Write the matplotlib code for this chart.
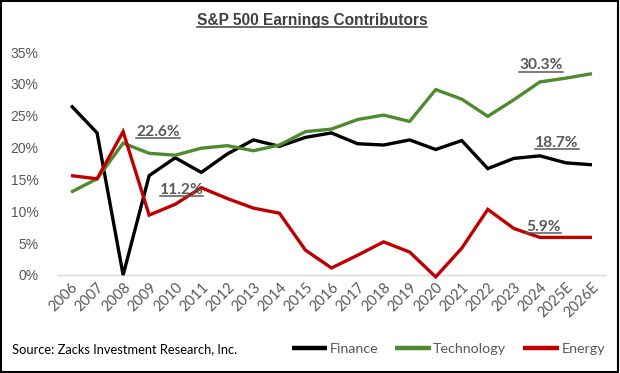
import matplotlib
matplotlib.use("Agg")
import matplotlib.pyplot as plt
from matplotlib.lines import Line2D
from matplotlib.patches import Rectangle

years = ["2006", "2007", "2008", "2009", "2010", "2011", "2012", "2013", "2014", "2015",
         "2016", "2017", "2018", "2019", "2020", "2021", "2022", "2023", "2024", "2025E", "2026E"]
finance = [26.6, 22.3, 0.0, 15.6, 18.4, 16.1, 19.0, 21.2, 20.2, 21.6,
           22.3, 20.6, 20.4, 21.2, 19.7, 21.1, 16.7, 18.3, 18.7, 17.6, 17.3]
technology = [13.0, 15.1, 20.7, 19.1, 18.8, 19.9, 20.3, 19.5, 20.4, 22.5,
              22.9, 24.4, 25.1, 24.1, 29.1, 27.6, 24.9, 27.5, 30.3, 30.9, 31.6]
energy = [15.6, 15.1, 22.5, 9.4, 11.1, 13.7, 12.0, 10.5, 9.7, 3.9,
          1.1, 3.1, 5.2, 3.6, -0.3, 4.2, 10.3, 7.3, 5.9, 5.9, 5.9]
series_names = ["Finance", "Technology", "Energy"]
series_colors = ["#000000", "#4E8A2E", "#C00000"]
annotations = [("22.6%", 3.33, 22.4), ("11.2%", 4.24, 13.3), ("30.3%", 18.05, 32.9),
               ("18.7%", 18.66, 20.7), ("5.9%", 18.13, 7.6)]
title = "S&P 500 Earnings Contributors"
source = "Source: Zacks Investment Research, Inc."

GRAY = "#595959"
fig = plt.figure(figsize=(6.2, 3.73), dpi=100)
ax = fig.add_axes([58/620, 1-275/373, (605-58)/620, (275-52)/373])

x = list(range(len(years)))
handles = []
for vals, name, col in zip([finance, technology, energy], series_names, series_colors):
    h, = ax.plot(x, vals, color=col, lw=2.4, label=name, clip_on=False,
                 solid_joinstyle="miter", solid_capstyle="butt")
    handles.append(h)

ax.set_xlim(-0.5, len(years) - 0.5)
ax.set_ylim(0, 35)
ax.set_yticks(range(0, 36, 5))
ax.set_yticklabels([f"{v}%" for v in range(0, 36, 5)], family="Liberation Sans",
                   fontsize=10, color=GRAY)
ax.set_xticks(x)
ax.set_xticklabels(years, rotation=45, ha="right", rotation_mode="anchor",
                   family="Lato", fontsize=10.5, color=GRAY)
ax.tick_params(axis="both", length=0, pad=4)
ax.tick_params(axis="y", pad=14)
for s in ["top", "right", "left"]:
    ax.spines[s].set_visible(False)
ax.spines["bottom"].set_color("#D9D9D9")
ax.spines["bottom"].set_linewidth(1.0)
ax.spines["bottom"].set_zorder(0)

texts = []
for label, xi, yi in annotations:
    t = ax.text(xi, yi, label, ha="center", va="center", family="Lato",
                fontweight="bold", fontsize=11.2, color=GRAY)
    texts.append(t)

tt = fig.text(312/620, 1-20/373, title, ha="center", va="center", family="Liberation Sans",
              fontweight="bold", fontsize=11.2, color="#404040")
fig.text(12/620, 1-349/373, source, ha="left", va="center", family="Lato",
         fontsize=9.3, color="#000000")

leg = fig.legend(handles=handles, loc="center right", bbox_to_anchor=(605/620, 1-349/373),
                 ncol=3, frameon=False, handlelength=2.5, handletextpad=0.15,
                 columnspacing=1.2, borderaxespad=0, borderpad=0,
                 prop={"family": "Lato", "size": 10.3})
for t in leg.get_texts():
    t.set_color(GRAY)
for l in leg.get_lines():
    l.set_linewidth(3.2)

fig.add_artist(Rectangle((0.002, 0.003), 0.995, 0.993, transform=fig.transFigure,
                         fill=False, edgecolor="black", lw=1.5))

fig.canvas.draw()
renderer = fig.canvas.get_renderer()
inv = fig.transFigure.inverted()
for t in texts + [tt]:
    bb = t.get_window_extent(renderer)
    (x0, y0), (x1, y1) = inv.transform([[bb.x0, bb.y0], [bb.x1, bb.y1]])
    yl = y0 + 0.06 * (y1 - y0)
    fig.add_artist(Line2D([x0, x1], [yl, yl], transform=fig.transFigure,
                          color=t.get_color(), lw=1.1))

fig.savefig("out.png", dpi=100)
